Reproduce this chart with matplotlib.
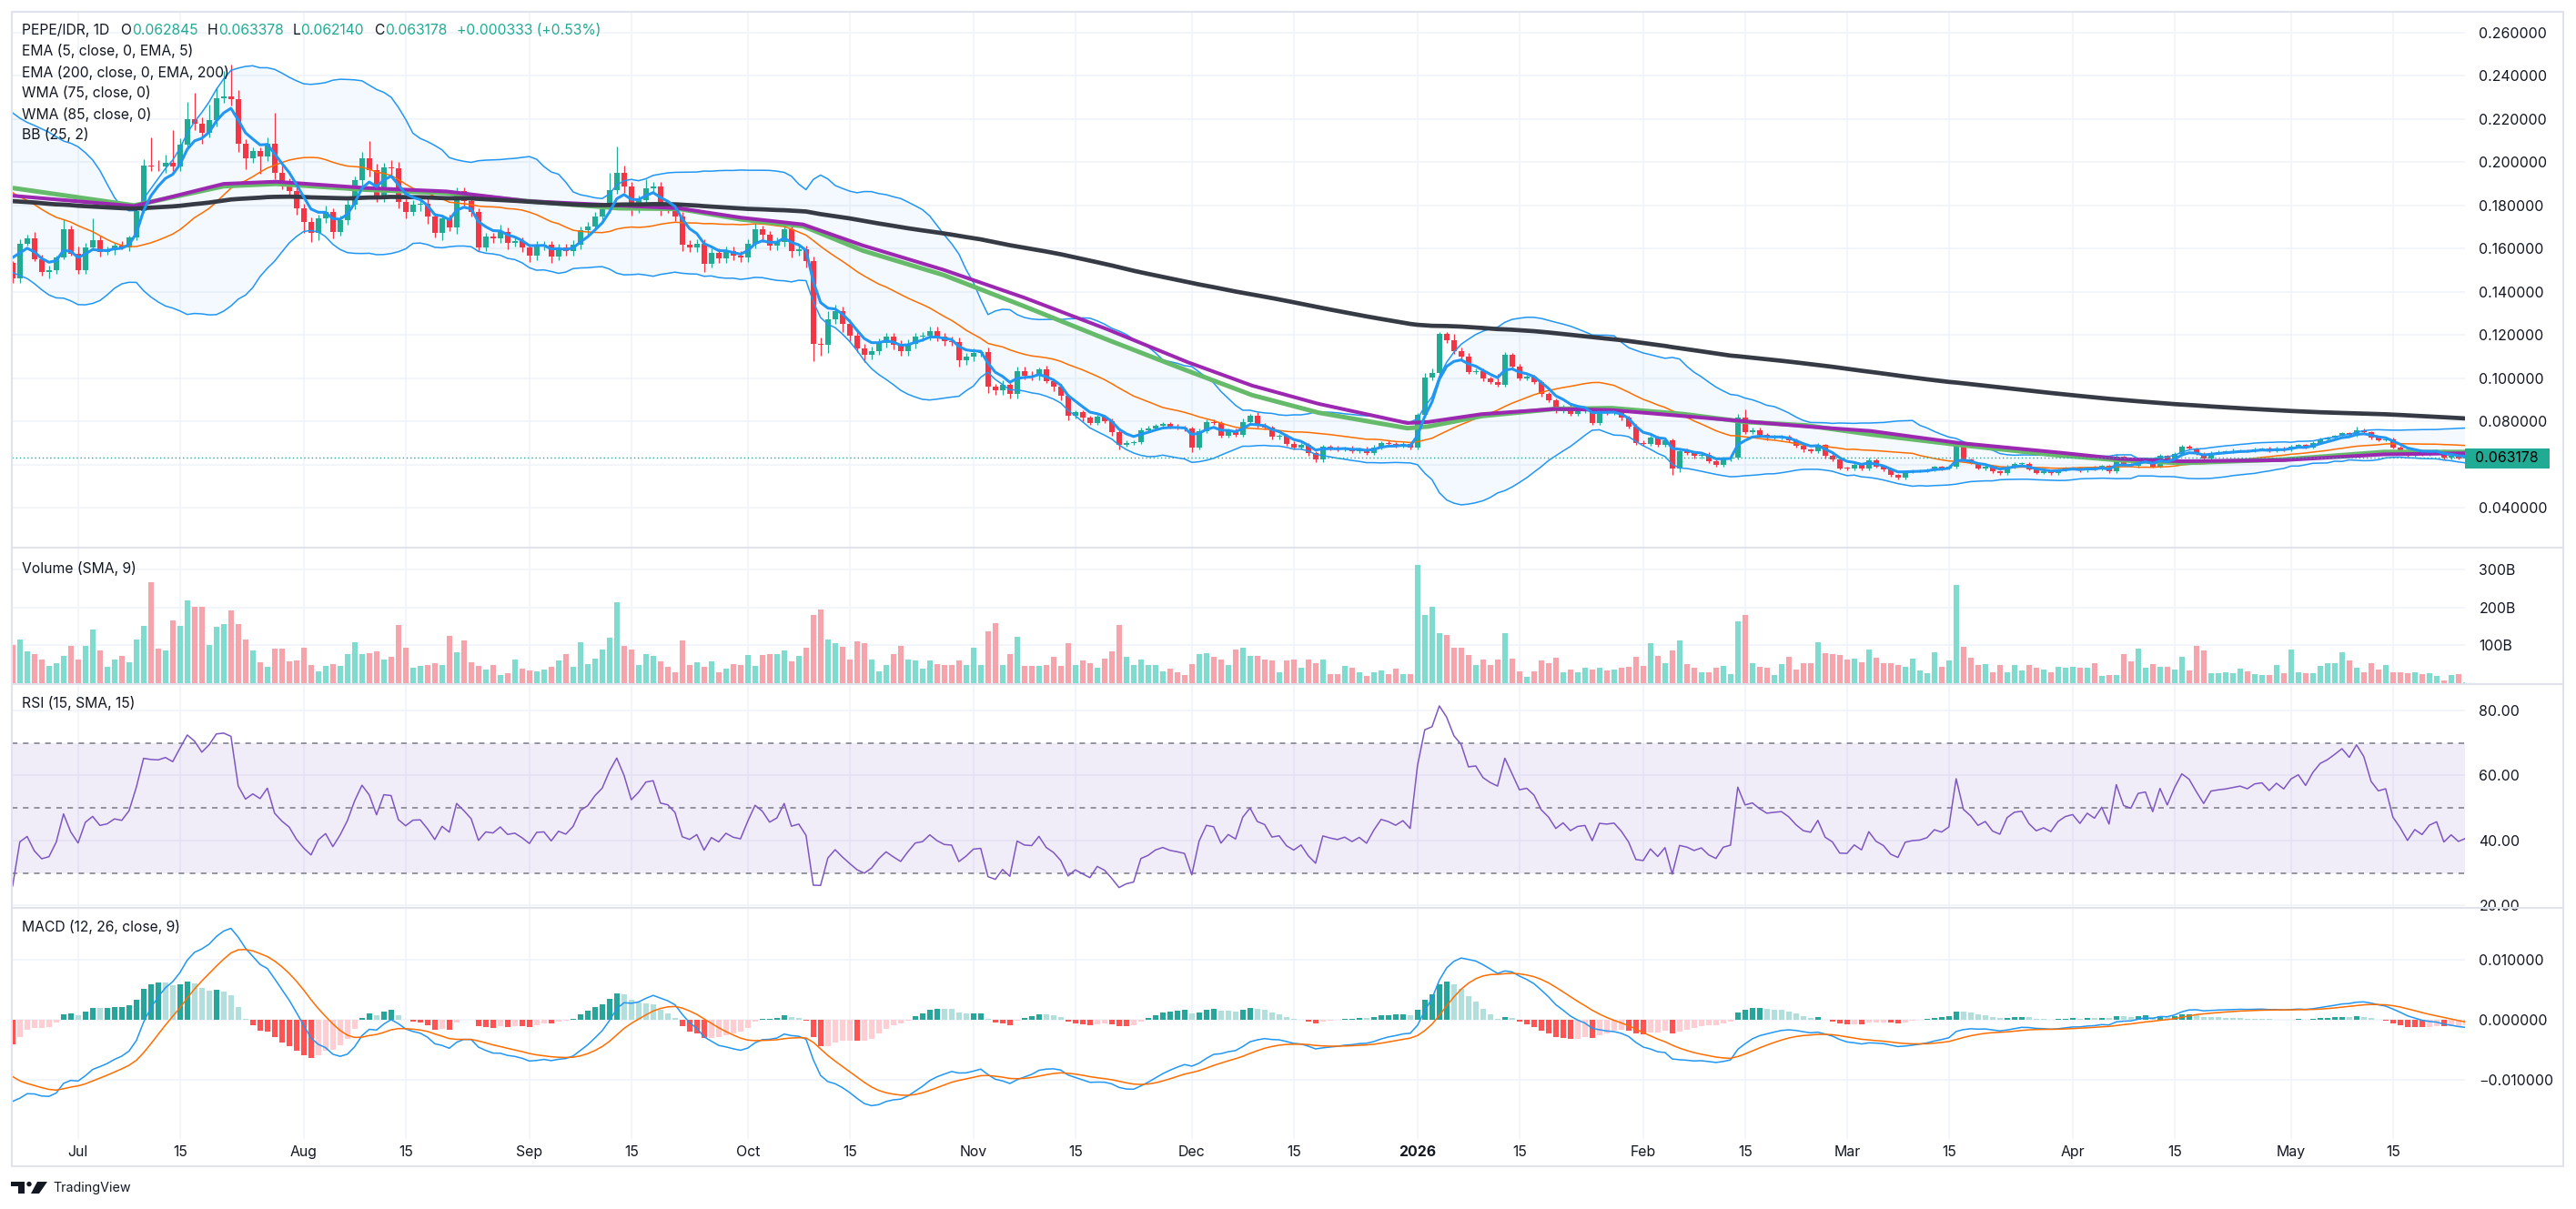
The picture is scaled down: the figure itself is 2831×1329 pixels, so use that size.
import numpy as np
import pandas as pd
import matplotlib
matplotlib.use("Agg")
import matplotlib.pyplot as plt
from matplotlib.patches import Rectangle, Polygon, Ellipse
from matplotlib.lines import Line2D

W, H = 2831, 1329

# ---------------- data ----------------
# daily closes before the visible window (Apr 21 - Jun 21 2025), only used to warm up indicators
LEAD_CLOSES = [
    0.126, 0.139, 0.150, 0.152, 0.150, 0.149, 0.146, 0.150, 0.146, 0.147,
    0.148, 0.146, 0.143, 0.140, 0.139, 0.141, 0.143, 0.171, 0.207, 0.214,
    0.218, 0.224, 0.240, 0.240, 0.232, 0.236, 0.228, 0.232, 0.226, 0.230,
    0.242, 0.246, 0.234, 0.236, 0.237, 0.238, 0.236, 0.214, 0.212, 0.205, 0.203,
    0.204, 0.200, 0.199, 0.195, 0.186, 0.192, 0.196, 0.198, 0.203, 0.205,
    0.200, 0.190, 0.178, 0.177, 0.178, 0.176, 0.168, 0.165, 0.161, 0.157, 0.152,
]

# daily closes Jun 22 2025 .. May 25 2026 (open = previous close)
CLOSES = [
    0.1461, 0.1622, 0.1645, 0.1550, 0.1493, 0.1501, 0.1558, 0.1687, 0.1577, 0.1501,
    0.1606, 0.1638, 0.1582, 0.1590, 0.1614, 0.1606, 0.1650, 0.1775, 0.1985, 0.1980,
    0.1978, 0.1996, 0.1980, 0.2081, 0.2199, 0.2176, 0.2134, 0.2194, 0.2294, 0.2302,
    0.2291, 0.2086, 0.2017, 0.2049, 0.2025, 0.2086, 0.1952, 0.1904, 0.1867, 0.1786,
    0.1722, 0.1670, 0.1738, 0.1767, 0.1678, 0.1732, 0.1803, 0.1915, 0.2017, 0.1964,
    0.1844, 0.1977, 0.1972, 0.1815, 0.1770, 0.1803, 0.1805, 0.1746, 0.1670, 0.1738,
    0.1699, 0.1864, 0.1819, 0.1767, 0.1606, 0.1654, 0.1646, 0.1678, 0.1627, 0.1633,
    0.1603, 0.1566, 0.1614, 0.1616, 0.1564, 0.1603, 0.1587, 0.1617, 0.1683, 0.1703,
    0.1748, 0.1783, 0.1872, 0.1952, 0.1888, 0.1783, 0.1823, 0.1880, 0.1888, 0.1791,
    0.1783, 0.1748, 0.1619, 0.1603, 0.1622, 0.1530, 0.1579, 0.1554, 0.1587, 0.1566,
    0.1558, 0.1622, 0.1687, 0.1662, 0.1614, 0.1630, 0.1687, 0.1587, 0.1595, 0.1541,
    0.1158, 0.1155, 0.1272, 0.1311, 0.1251, 0.1195, 0.1139, 0.1106, 0.1126, 0.1163,
    0.1190, 0.1155, 0.1123, 0.1158, 0.1190, 0.1195, 0.1219, 0.1190, 0.1171, 0.1168,
    0.1082, 0.1098, 0.1118, 0.1120, 0.0961, 0.0942, 0.0969, 0.0926, 0.1034, 0.1013,
    0.1010, 0.1039, 0.0986, 0.0961, 0.0918, 0.0824, 0.0841, 0.0816, 0.0792, 0.0821,
    0.0800, 0.0752, 0.0691, 0.0700, 0.0704, 0.0760, 0.0768, 0.0781, 0.0787, 0.0776,
    0.0771, 0.0765, 0.0679, 0.0755, 0.0797, 0.0792, 0.0733, 0.0755, 0.0739, 0.0797,
    0.0824, 0.0781, 0.0771, 0.0728, 0.0731, 0.0696, 0.0680, 0.0691, 0.0652, 0.0623,
    0.0683, 0.0676, 0.0671, 0.0676, 0.0663, 0.0671, 0.0655, 0.0679, 0.0700, 0.0695,
    0.0687, 0.0695, 0.0679, 0.0829, 0.1002, 0.1023, 0.1203, 0.1174, 0.1123, 0.1098,
    0.1029, 0.1034, 0.0997, 0.0981, 0.0970, 0.1106, 0.1055, 0.0998, 0.1005, 0.0981,
    0.0926, 0.0897, 0.0849, 0.0868, 0.0836, 0.0849, 0.0852, 0.0792, 0.0844, 0.0841,
    0.0844, 0.0816, 0.0776, 0.0700, 0.0695, 0.0723, 0.0691, 0.0712, 0.0583, 0.0663,
    0.0655, 0.0639, 0.0646, 0.0615, 0.0599, 0.0626, 0.0631, 0.0816, 0.0752, 0.0760,
    0.0739, 0.0723, 0.0726, 0.0728, 0.0712, 0.0687, 0.0668, 0.0663, 0.0691, 0.0639,
    0.0623, 0.0583, 0.0582, 0.0599, 0.0583, 0.0620, 0.0591, 0.0578, 0.0550, 0.0539,
    0.0567, 0.0570, 0.0571, 0.0575, 0.0588, 0.0583, 0.0591, 0.0688, 0.0623, 0.0607,
    0.0583, 0.0591, 0.0567, 0.0559, 0.0591, 0.0602, 0.0604, 0.0578, 0.0562, 0.0567,
    0.0559, 0.0575, 0.0583, 0.0586, 0.0571, 0.0586, 0.0578, 0.0594, 0.0567, 0.0636,
    0.0599, 0.0594, 0.0623, 0.0626, 0.0591, 0.0639, 0.0607, 0.0647, 0.0684, 0.0674,
    0.0650, 0.0626, 0.0655, 0.0658, 0.0660, 0.0663, 0.0666, 0.0662, 0.0671, 0.0673,
    0.0663, 0.0675, 0.0668, 0.0684, 0.0691, 0.0679, 0.0700, 0.0716, 0.0723, 0.0733,
    0.0744, 0.0736, 0.0760, 0.0749, 0.0723, 0.0712, 0.0715, 0.0679, 0.0663, 0.0642,
    0.0655, 0.0647, 0.0658, 0.0662, 0.0631, 0.0639, 0.062845, 0.063178,
]
FIRST_OPEN = 0.1533

# wick lengths beyond the body, in 0.001 price units
UPPER_WICK = [
    1, 2, 2, 3, 2, 2, 1, 5, 2, 3,   2, 10, 2, 2, 1, 2, 1, 2, 3, 13,
    3, 4, 15, 3, 8, 12, 3, 7, 5, 12,   15, 4, 2, 2, 2, 3, 14, 3, 2, 2,
    2, 2, 2, 3, 2, 2, 2, 2, 3, 8,   3, 2, 3, 3, 2, 2, 2, 3, 2, 2,
    2, 2, 2, 2, 2, 2, 2, 3, 2, 2,   2, 2, 2, 2, 2, 2, 2, 2, 2, 2,
    2, 2, 8, 12, 3, 2, 2, 4, 2, 2,   2, 2, 2, 2, 2, 2, 2, 2, 2, 2,
    2, 2, 3, 2, 2, 2, 3, 2, 2, 2,   2, 3, 4, 3, 2, 2, 2, 2, 2, 2,
    2, 2, 2, 2, 2, 2, 2, 2, 2, 2,   2, 2, 2, 1, 2, 1, 2, 1, 2, 2,
    2, 1, 2, 1, 1, 1, 1, 1, 1, 1,   1, 1.2, 0.8, 1, 1, 1.2, 1, 0.8, 1, 1,
    1, 0.8, 1, 1.2, 1, 1, 0.8, 1, 1, 1.5,   1, 2, 1, 0.8, 1, 1, 1, 0.8, 1, 1,
    1, 0.8, 1, 0.6, 1, 0.8, 1, 1, 0.8, 1,   1, 0.8, 1, 1, 2, 2, 1, 1, 3, 2,
    2, 1, 1, 1, 4, 1.5, 1, 1, 1, 1,   1, 1, 0.8, 1, 1, 1, 1, 0.8, 1, 1,
    0.8, 1, 1, 1, 1, 0.8, 1, 1, 1, 1,   1, 0.8, 1, 1, 0.8, 1, 1, 2, 4, 1,
    1, 0.8, 1, 1, 0.8, 1, 1, 0.8, 1, 0.6,   0.8, 0.6, 0.8, 1, 0.6, 1, 0.8, 0.6, 0.8, 0.6,
    0.6, 0.8, 0.6, 0.6, 0.8, 0.6, 0.8, 2, 0.8, 0.6,   0.6, 0.8, 0.6, 0.6, 0.8, 0.8, 0.6, 0.6, 0.6, 0.8,
    0.6, 0.8, 0.6, 0.6, 0.6, 0.6, 0.8, 0.6, 0.6, 1.2,   0.6, 0.6, 0.8, 0.6, 0.6, 1.0, 0.6, 1.2, 0.8, 0.6,
    0.6, 0.6, 0.8, 0.6, 0.6, 1.0, 0.6, 0.6, 0.6, 0.6,   0.8, 0.6, 0.6, 0.6, 0.6, 0.6, 0.6, 0.8, 0.6, 0.6,
    0.6, 0.6, 1.5, 0.6, 0.6, 0.6, 0.6, 0.8, 0.6, 0.6,   0.6, 0.6, 0.6, 0.6, 0.8, 0.6, 0.6, 0.2,
]
LOWER_WICK = [
    2, 2, 1, 1, 2, 3, 2, 1, 1, 2,   2, 1, 2, 1, 2, 1, 2, 1, 1, 2,
    2, 3, 2, 2, 2, 3, 5, 2, 3, 2,   3, 4, 5, 2, 8, 2, 3, 3, 2, 3,
    5, 4, 3, 2, 3, 2, 2, 2, 3, 3,   3, 3, 4, 3, 3, 2, 3, 3, 2, 3,
    2, 3, 3, 2, 2, 2, 2, 2, 3, 2,   2, 3, 2, 2, 3, 2, 2, 2, 2, 2,
    2, 2, 2, 2, 3, 3, 2, 2, 2, 4,   2, 2, 3, 2, 2, 4, 2, 2, 2, 2,
    2, 2, 2, 3, 2, 2, 2, 3, 2, 3,   8, 5, 4, 2, 4, 3, 2, 3, 2, 2,
    2, 2, 2, 2, 2, 2, 2, 2, 2, 2,   3, 2, 2, 2, 3, 2, 2, 2, 2, 2,
    2, 2, 1, 2, 2, 2, 1, 2, 1, 1,   1, 2, 2, 1, 1, 1, 1, 1, 1, 1,
    1, 1, 2, 1, 1, 1, 1, 1, 1, 1,   1, 1, 1, 1, 1, 1, 1, 1, 1, 1,
    1, 1, 1, 1, 1, 1, 1, 1, 1, 1,   1, 1, 1, 1, 1, 1, 1, 1, 1, 1,
    1, 1, 1, 1, 1, 1, 1, 1, 1, 1,   1, 1, 1, 1, 1, 1, 1, 1, 1, 1,
    1, 1, 1, 1, 1, 1, 1, 1, 3, 2,   1, 1, 1, 1, 1, 1, 1, 0.8, 1, 1,
    0.8, 1, 0.8, 1, 0.8, 0.8, 1, 0.8, 0.8, 1,   0.8, 0.6, 0.8, 0.8, 1, 0.8, 0.6, 0.8, 0.8, 0.8,
    0.6, 0.8, 0.6, 0.8, 0.6, 0.8, 0.6, 0.8, 0.6, 0.6,   0.6, 0.8, 0.6, 0.6, 0.6, 0.8, 0.6, 0.6, 0.6, 0.6,
    0.8, 0.6, 0.6, 0.6, 0.6, 0.6, 0.6, 0.6, 0.6, 0.6,   0.6, 0.6, 0.8, 0.6, 0.6, 0.6, 0.6, 0.6, 0.6, 0.6,
    0.6, 0.6, 0.6, 0.6, 0.6, 0.6, 0.6, 0.6, 0.6, 0.6,   0.6, 0.6, 0.6, 0.6, 0.6, 0.6, 0.6, 0.6, 0.6, 0.6,
    0.6, 0.6, 0.6, 0.6, 0.6, 0.6, 0.6, 0.6, 0.6, 0.6,   0.6, 0.6, 0.6, 0.6, 0.8, 0.6, 0.6, 0.7,
]

# daily volume, billions
VOLUME_B = [
    100, 116, 83, 78, 62, 45, 52, 71, 99, 63, 99, 142, 86, 44, 62, 72, 55, 116, 151, 267,
    92, 86, 165, 151, 218, 203, 201, 101, 149, 157, 192,
    157, 116, 86, 55, 44, 92, 92, 57, 60, 95, 49, 32, 45, 51, 45, 78, 109, 76, 80, 84, 62, 70,
    155,
    95, 41, 45, 49, 53, 47, 124, 82, 113, 55, 45, 35, 47, 21, 26, 62, 38, 34, 32, 36,
    44, 59, 78, 44, 109, 50, 66, 88, 120,
    215,
    99, 90, 49, 76, 71, 57, 44, 30, 114, 49, 55, 43, 57, 28, 38, 51, 47, 74, 45, 74,
    78, 76, 86, 57, 73, 95,
    180, 194,
    116, 107, 96, 62, 111, 105, 62, 32, 47, 78, 99, 62, 59, 38, 61, 51, 47, 47, 59, 47, 94, 47,
    138, 158,
    47, 78, 122, 45, 45, 45, 49, 70, 45, 107, 47, 60, 52, 40, 66, 85,
    153,
    70, 47, 63, 49, 47, 31, 38, 30, 22, 51, 76, 80, 70, 62, 47, 90, 94,
    73, 73, 62, 59, 28, 61, 62, 40, 62, 54, 62, 24, 24, 45, 40, 30, 19, 30, 34, 24,
    38, 24, 24,
    313, 180, 201, 133, 128, 95, 95, 74, 49, 62, 47, 63, 133, 66, 32, 16, 32, 61, 54, 68,
    29, 36, 29, 40, 36, 40, 34, 35, 42, 43, 70, 45, 107, 71, 52, 86, 113, 50, 42, 28,
    29, 42, 45, 23, 164,
    180, 54, 44, 42, 21, 51, 70, 35, 53, 53, 109, 80, 77, 74, 62, 66, 55, 90, 68, 54,
    54, 49, 44, 66, 33, 27, 82, 43, 60,
    259, 96, 68, 47, 51, 28, 47, 28, 47, 34, 47, 40, 35, 28, 44, 40, 44, 40, 40, 52,
    20, 21, 22, 76, 57, 92, 40, 50, 44, 44, 35, 70, 34, 98, 86, 26, 26, 28, 26, 38,
    32, 24, 21, 22, 49, 26, 90, 30, 26, 26, 45, 54, 54, 82, 59, 40, 30, 54, 36, 47,
    29, 29, 26, 28, 24, 26, 20, 8, 22, 24, 3,
]

EMA200_START = 0.1819

# WMA lines: (candle index, value)
WMA_K = [0, 16.7, 29, 36.2, 48.5, 59.6, 70.8, 83.3, 91.6, 100, 108.6, 116.8, 127.9, 139,
         150.3, 161.4, 170.3, 179.4, 191.6, 194.5, 201.8, 211.8, 219.7, 229.6, 238, 246.4,
         255.3, 267.3, 281.2, 289.5, 297.9, 311.9, 325.8, 337]
WMA75_V = [0.1880, 0.1799, 0.1888, 0.1899, 0.1872, 0.1856, 0.1819, 0.1786, 0.1783, 0.1735,
           0.1703, 0.1590, 0.1477, 0.1332, 0.1179, 0.1034, 0.0921, 0.0840, 0.0768, 0.0776,
           0.0824, 0.0857, 0.0861, 0.0833, 0.0797, 0.0781, 0.0739, 0.0691, 0.0642, 0.0620,
           0.0607, 0.0623, 0.0658, 0.0658]
WMA85_V = [0.1844, 0.1796, 0.1899, 0.1909, 0.1880, 0.1864, 0.1819, 0.1799, 0.1786, 0.1743,
           0.1711, 0.1614, 0.1501, 0.1372, 0.1227, 0.1074, 0.0965, 0.0881, 0.0792, 0.0797,
           0.0833, 0.0857, 0.0852, 0.0824, 0.0800, 0.0776, 0.0755, 0.0700, 0.0655, 0.0626,
           0.0615, 0.0620, 0.0647, 0.0652]

TICK_K = [9, 23, 40, 54, 71, 85, 101, 115, 132, 146, 162, 176, 193, 207, 224, 238,
          252, 266, 283, 297, 313, 327]
TICK_LABELS = ["Jul", "15", "Aug", "15", "Sep", "15", "Oct", "15", "Nov", "15", "Dec", "15",
               "2026", "15", "Feb", "15", "Mar", "15", "Apr", "15", "May", "15"]

PRICE_TICKS = [0.04, 0.06, 0.08, 0.10, 0.12, 0.14, 0.16, 0.18, 0.20, 0.22, 0.24, 0.26]
LAST = dict(o=0.062845, h=0.063378, l=0.062140, c=0.063178, chg=0.000333, pct=0.53)

# ---------------- indicators ----------------
closes = np.array(CLOSES)
n = len(closes)
opens = np.concatenate([[FIRST_OPEN], closes[:-1]])
highs = np.maximum(opens, closes) + np.array(UPPER_WICK) * 0.001
lows = np.minimum(opens, closes) - np.array(LOWER_WICK) * 0.001
vol = np.array(VOLUME_B) * 1e9
up = closes >= opens

allc = pd.Series(LEAD_CLOSES + CLOSES)
lead = len(LEAD_CLOSES)
xi_all = np.arange(-lead, n)

ema5 = allc.ewm(span=5, adjust=False).mean().values
basis = allc.rolling(25).mean().values
dev = allc.rolling(25).std(ddof=0).values
bb_up = basis + 2 * dev
bb_dn = basis - 2 * dev

chg = allc.diff()
gain = chg.clip(lower=0).ewm(alpha=1 / 15, adjust=False).mean()
loss = (-chg.clip(upper=0)).ewm(alpha=1 / 15, adjust=False).mean()
rsi = (100 - 100 / (1 + gain / loss)).values

macd = (allc.ewm(span=12, adjust=False).mean() - allc.ewm(span=26, adjust=False).mean())
signal = macd.ewm(span=9, adjust=False).mean()
hist = (macd - signal).values
macd = macd.values
signal = signal.values

ema200 = np.empty(n)
ema200[0] = EMA200_START
a200 = 2 / 201
for i in range(1, n):
    ema200[i] = ema200[i - 1] + a200 * (closes[i] - ema200[i - 1])

# ---------------- figure ----------------
plt.rcParams['font.family'] = ['Inter', 'DejaVu Sans']
TXT = '#131722'
GRID = '#f0f3fa'
UPC = '#22ab94'
DNC = '#f23645'

fig = plt.figure(figsize=(W / 100, H / 100), dpi=100)
fig.patch.set_facecolor('white')
renderer = fig.canvas.get_renderer()


def fit_size(s, target_px, weight='normal'):
    t = fig.text(0, 0, s, fontsize=10, fontweight=weight)
    w = t.get_window_extent(renderer=renderer).width
    t.remove()
    return 10 * target_px / w


FS_AX = fit_size("0.260000", 75)
FS_LG = fit_size("MACD (12, 26, close, 9)", 176)


def rect(top, bottom, left=13, right=2709):
    return [left / W, 1 - bottom / H, (right - left) / W, (bottom - top) / H]


ax_p = fig.add_axes(rect(13, 601))
ax_v = fig.add_axes(rect(603, 751))
ax_r = fig.add_axes(rect(752, 997))
ax_m = fig.add_axes(rect(998, 1252))

XL = (-0.1, 336.9)
for ax in (ax_p, ax_v, ax_r, ax_m):
    ax.set_xlim(*XL)
    ax.set_facecolor('none')
    for s in ax.spines.values():
        s.set_visible(False)
    ax.set_xticks(TICK_K)
    ax.yaxis.tick_right()
    ax.tick_params(axis='both', length=0, labelsize=FS_AX, labelcolor=TXT)
    ax.tick_params(axis='y', pad=11)
    ax.grid(True, color=GRID, lw=1.2, zorder=0)
    ax.set_axisbelow(True)
    if ax is not ax_m:
        ax.set_xticklabels([])
ax_m.set_xticklabels(TICK_LABELS)
ax_m.tick_params(axis='x', pad=5)
for lbl in ax_m.get_xticklabels():
    if lbl.get_text() == "2026":
        lbl.set_fontweight('bold')

xs = np.arange(n)

# --- price pane ---
ax_p.set_ylim(0.021937, 0.26952)
ax_p.set_yticks(PRICE_TICKS)
# the 0.06 label sits under the last-price tag, as on the original
ax_p.set_yticklabels(["" if abs(t - 0.06) < 1e-9 else f"{t:.6f}" for t in PRICE_TICKS])

ax_p.fill_between(xi_all, bb_dn, bb_up, color='#2196f3', alpha=0.05, lw=0, zorder=1)
ax_p.plot(xi_all, bb_up, color='#2196f3', lw=1.1, zorder=3)
ax_p.plot(xi_all, bb_dn, color='#2196f3', lw=1.1, zorder=3)
ax_p.plot(xi_all, basis, color='#ff6d00', lw=1.1, zorder=3)

ax_p.vlines(xs, lows, highs, color=np.where(up, UPC, DNC), lw=0.9, zorder=2)
body_lo = np.minimum(opens, closes)
body_h = np.maximum(np.abs(closes - opens), 0.0003)
ax_p.bar(xs, body_h, bottom=body_lo, width=0.7, color=np.where(up, UPC, DNC), lw=0, zorder=2)

ax_p.plot(WMA_K, WMA75_V, color='#66bb6a', lw=3.6, solid_capstyle='butt', zorder=4)
ax_p.plot(WMA_K, WMA85_V, color='#9c27b0', lw=2.9, solid_capstyle='butt', zorder=4)
ax_p.plot(xs, ema200, color='#363a45', lw=3.4, zorder=5)
ax_p.plot(xi_all, ema5, color='#2196f3', lw=2.2, zorder=6)
ax_p.axhline(LAST['c'], color=UPC, lw=1, ls=(0, (1, 2)), zorder=6)

# --- volume pane ---
ax_v.set_ylim(0, 356e9)
ax_v.set_yticks([100e9, 200e9, 300e9])
ax_v.set_yticklabels(["100B", "200B", "300B"])
ax_v.bar(xs, vol, width=0.8, color=np.where(up, '#80dbcf', '#f7a3ab'), lw=0, zorder=2)

# --- RSI pane ---
ax_r.set_ylim(19.52, 88.06)
ax_r.set_yticks([20, 40, 60, 80])
ax_r.set_yticklabels(["20.00", "40.00", "60.00", "80.00"])
ax_r.axhspan(30, 70, color='#7e57c2', alpha=0.1, lw=0, zorder=1)
for lv in (30, 50, 70):
    ax_r.axhline(lv, color='#787b86', lw=1.1, ls=(0, (4, 4)), zorder=2)
ax_r.plot(xi_all, rsi, color='#7e57c2', lw=1.1, zorder=3)

# --- MACD pane ---
ax_m.set_ylim(-0.01973, 0.01852)
ax_m.set_yticks([-0.01, 0, 0.01])
ax_m.set_yticklabels(["\u22120.010000", "0.000000", "0.010000"])
h_vis = hist[lead:]
h_prev = hist[lead - 1:-1]
hcol = np.where(h_vis >= 0,
                np.where(h_vis > h_prev, '#26a69a', '#b2dfdb'),
                np.where(h_vis < h_prev, '#ff5252', '#ffcdd2'))
ax_m.bar(xs, h_vis, width=0.8, color=hcol, lw=0, zorder=2)
ax_m.plot(xi_all, macd, color='#2196f3', lw=1.1, zorder=3)
ax_m.plot(xi_all, signal, color='#ff6d00', lw=1.1, zorder=3)

# ---------------- frame, separators ----------------
fig.add_artist(Rectangle((13 / W, 1 - 1282 / H), (2817 - 13) / W, (1282 - 13) / H,
                         transform=fig.transFigure, fill=False, ec='#e0e3eb', lw=1.5))
for yy in (602, 752, 997.5):
    fig.add_artist(Line2D([13 / W, 2817 / W], [1 - yy / H] * 2, transform=fig.transFigure,
                          color='#e0e3eb', lw=1.5))

# last price tag
fig.add_artist(Rectangle((2709 / W, 1 - 514.5 / H), 93 / W, 22 / H, transform=fig.transFigure,
                         fc=UPC, ec='none', zorder=10))
fig.text(2720 / W, 1 - 503.5 / H, f"{LAST['c']:.6f}", fontsize=FS_AX, color='black',
         va='center', ha='left', zorder=11)

# ---------------- legend texts ----------------
head = [
    (24.5, "PEPE/IDR, 1D", TXT),
    (132.6, "O", TXT), (145.0, f"{LAST['o']:.6f}", UPC),
    (227.7, "H", TXT), (240.0, f"{LAST['h']:.6f}", UPC),
    (321.4, "L", TXT), (330.4, f"{LAST['l']:.6f}", UPC),
    (410.7, "C", TXT), (422.8, f"{LAST['c']:.6f}", UPC),
    (502.2, f"+{LAST['chg']:.6f} (+{LAST['pct']:.2f}%)", UPC),
]
for x, s, c in head:
    fig.text(x / W, 1 - 33.5 / H, s, fontsize=FS_LG, color=c, va='center', ha='left')

for i, s in enumerate(["EMA (5, close, 0, EMA, 5)", "EMA (200, close, 0, EMA, 200)",
                       "WMA (75, close, 0)", "WMA (85, close, 0)", "BB (25, 2)"]):
    fig.text(24.5 / W, 1 - (56.5 + 23 * i) / H, s, fontsize=FS_LG, color=TXT, va='center')

fig.text(24.5 / W, 1 - 625 / H, "Volume (SMA, 9)", fontsize=FS_LG, color=TXT, va='center')
fig.text(24.5 / W, 1 - 773 / H, "RSI (15, SMA, 15)", fontsize=FS_LG, color=TXT, va='center')
fig.text(24.5 / W, 1 - 1019 / H, "MACD (12, 26, close, 9)", fontsize=FS_LG, color=TXT, va='center')


# TradingView logo
def px(x, y):
    return (x / W, 1 - y / H)


fig.add_artist(Polygon([px(12, 1299), px(27, 1299), px(27, 1312), px(20, 1312), px(20, 1304), px(12, 1304)],
                       closed=True, transform=fig.transFigure, fc=TXT, ec='none'))
fig.add_artist(Ellipse(px(32, 1301.6), 5.4 / W, 5.4 / H, transform=fig.transFigure, fc=TXT, ec='none'))
fig.add_artist(Polygon([px(41, 1299), px(52, 1299), px(43, 1312), px(34, 1312)],
                       closed=True, transform=fig.transFigure, fc=TXT, ec='none'))
fs_tv = fit_size("TradingView", 86)
fig.text(58 / W, 1 - 1306 / H, "TradingView", fontsize=fs_tv, color=TXT, va='center')

fig.savefig("out.png", dpi=100, facecolor='white')
